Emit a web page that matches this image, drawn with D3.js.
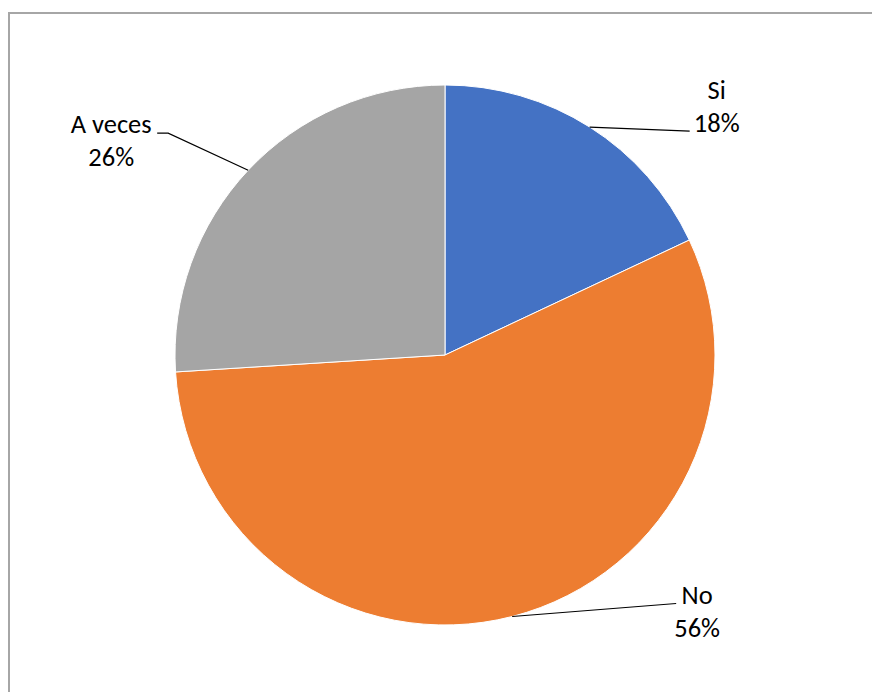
<!DOCTYPE html>
<html lang="es">
<head>
    <meta charset="UTF-8">
    <title>Pie</title>
    <style>
        body { margin: 0; background: #fff; }
        text { font-family: Calibri, Carlito, "Liberation Sans", sans-serif; font-size: 26.5px; fill: #000; }
    </style>
    <script src="https://d3js.org/d3.v7.min.js"></script>
</head>
<body>
    <svg width="872" height="692"></svg>
    <script>
        // chart data
        const categories = ["Si", "No", "A veces"];
        const values = [18, 56, 26];
        const colors = ["#4472C4", "#ED7D31", "#A5A5A5"];
        // label placement relative to where the leader line leaves the pie
        const labelLayout = [
            { bend: [100, 4], elbow: null, text: [127, -28], anchor: "middle" },
            { bend: [164, -13], elbow: null, text: [185, -13], anchor: "middle" },
            { bend: [-80, -37], elbow: [-91, -37], text: [-137, -37], anchor: "middle" }
        ];

        const svg = d3.select("svg");
        const cx = 445, cy = 355, r = 270;

        // chart border
        svg.append("rect")
            .attr("x", 9).attr("y", 13)
            .attr("width", 900).attr("height", 720)
            .attr("fill", "none")
            .attr("stroke", "#A6A6A6")
            .attr("stroke-width", 2);

        const pie = d3.pie().sort(null).value(d => d)(values);
        const arc = d3.arc().innerRadius(0).outerRadius(r);

        const g = svg.append("g").attr("transform", `translate(${cx},${cy})`);

        g.selectAll("path")
            .data(pie)
            .enter()
            .append("path")
            .attr("d", arc)
            .attr("fill", (d, i) => colors[i])
            .attr("stroke", "#fff")
            .attr("stroke-width", 1);

        const total = d3.sum(values);

        pie.forEach((d, i) => {
            const mid = (d.startAngle + d.endAngle) / 2;
            const sx = r * Math.sin(mid), sy = -r * Math.cos(mid);
            const lay = labelLayout[i];
            const pts = [[sx, sy], [sx + lay.bend[0], sy + lay.bend[1]]];
            if (lay.elbow) pts.push([sx + lay.elbow[0], sy + lay.elbow[1]]);

            g.append("path")
                .attr("d", d3.line()(pts))
                .attr("fill", "none")
                .attr("stroke", "#000")
                .attr("stroke-width", 1.2);

            const t = g.append("text")
                .attr("text-anchor", lay.anchor)
                .attr("x", sx + lay.text[0])
                .attr("y", sy + lay.text[1]);
            t.append("tspan")
                .attr("x", sx + lay.text[0])
                .attr("dy", "0")
                .text(categories[i]);
            t.append("tspan")
                .attr("x", sx + lay.text[0])
                .attr("dy", 33)
                .text(Math.round(values[i] / total * 100) + "%");
        });
    </script>
</body>
</html>
